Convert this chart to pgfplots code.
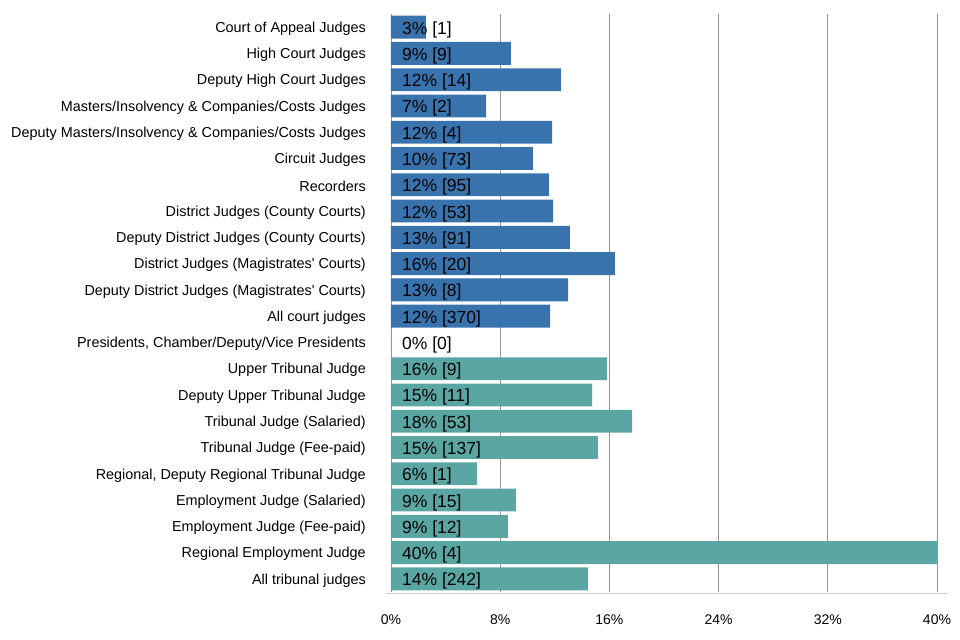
\documentclass[border=0pt]{standalone}
\usepackage{pgfplots}
\usepackage{pgfplotstable}
\pgfplotsset{compat=1.18}
\usepackage{fontspec}
\setmainfont{Liberation Sans}
\definecolor{courtblue}{RGB}{56,115,174}
\definecolor{tribteal}{RGB}{90,166,162}
\definecolor{gridgray}{RGB}{150,150,150}
\definecolor{axisgray}{RGB}{204,204,204}

\pgfplotstableread[col sep=comma]{
y,v,lab
0,2.56,3\% [1]
1,8.79,9\% [9]
2,12.45,12\% [14]
3,6.96,7\% [2]
4,11.8,12\% [4]
5,10.4,10\% [73]
6,11.57,12\% [95]
7,11.87,12\% [53]
8,13.11,13\% [91]
9,16.41,16\% [20]
10,12.97,13\% [8]
11,11.65,12\% [370]
}\court
\pgfplotstableread[col sep=comma]{
y,v,lab
12,0,0\% [0]
13,15.82,16\% [9]
14,14.73,15\% [11]
15,17.66,18\% [53]
16,15.16,15\% [137]
17,6.3,6\% [1]
18,9.16,9\% [15]
19,8.57,9\% [12]
20,40,40\% [4]
21,14.43,14\% [242]
}\trib

\begin{document}
\begin{tikzpicture}
\path[use as bounding box] (-391bp,-48bp) rectangle (569bp,592bp);
\begin{axis}[
  at={(0,0)}, anchor=south west,
  scale only axis,
  width=546bp, height=578bp,
  xmin=0, xmax=40,
  ymin=-0.5, ymax=21.5,
  y dir=reverse,
  xtick={0,8,16,24,32,40},
  xticklabels={0\%,8\%,16\%,24\%,32\%,40\%},
  ytick={0,...,21},
  yticklabels={
    Court of Appeal Judges,
    High Court Judges,
    Deputy High Court Judges,
    Masters/Insolvency \& Companies/Costs Judges,
    Deputy Masters/Insolvency \& Companies/Costs Judges,
    Circuit Judges,
    Recorders,
    District Judges (County Courts),
    Deputy District Judges (County Courts),
    District Judges (Magistrates\textquotesingle\ Courts),
    Deputy District Judges (Magistrates\textquotesingle\ Courts),
    All court judges,
    {Presidents, Chamber/Deputy/Vice Presidents},
    Upper Tribunal Judge,
    Deputy Upper Tribunal Judge,
    Tribunal Judge (Salaried),
    Tribunal Judge (Fee-paid),
    {Regional, Deputy Regional Tribunal Judge},
    Employment Judge (Salaried),
    Employment Judge (Fee-paid),
    Regional Employment Judge,
    All tribunal judges},
  major tick length=0pt,
  axis lines*=left,
  y axis line style={draw=none},
  x axis line style={draw=axisgray, line width=1.8bp, shorten <=-5bp, shorten >=-11bp, yshift=-1.5bp},
  xmajorgrids,
  major grid style={draw=gridgray, line width=0.8bp},
  yticklabel style={font=\fontsize{14.4bp}{17bp}\selectfont, inner sep=0pt, anchor=east, xshift=-25bp, yshift=-1.5bp},
  xticklabel style={font=\fontsize{14bp}{16bp}\selectfont, inner sep=0pt, anchor=center, yshift=-28bp},
  clip=false,
]
\addplot[xbar, bar width=0.87, bar shift=0pt, fill=courtblue, draw=none] table[x=v, y=y] {\court};
\addplot[xbar, bar width=0.87, bar shift=0pt, fill=tribteal, draw=none] table[x=v, y=y] {\trib};
\addplot[draw=none, mark=none, nodes near coords, point meta=explicit symbolic,
  every node near coord/.append style={anchor=west, inner sep=0pt, xshift=11bp, yshift=-2.5bp, font=\fontsize{17.5bp}{20bp}\selectfont, text=black}]
  table[x expr=0, y=y, meta=lab] {\court};
\addplot[draw=none, mark=none, nodes near coords, point meta=explicit symbolic,
  every node near coord/.append style={anchor=west, inner sep=0pt, xshift=11bp, yshift=-2.5bp, font=\fontsize{17.5bp}{20bp}\selectfont, text=black}]
  table[x expr=0, y=y, meta=lab] {\trib};
\end{axis}
\end{tikzpicture}
\end{document}
